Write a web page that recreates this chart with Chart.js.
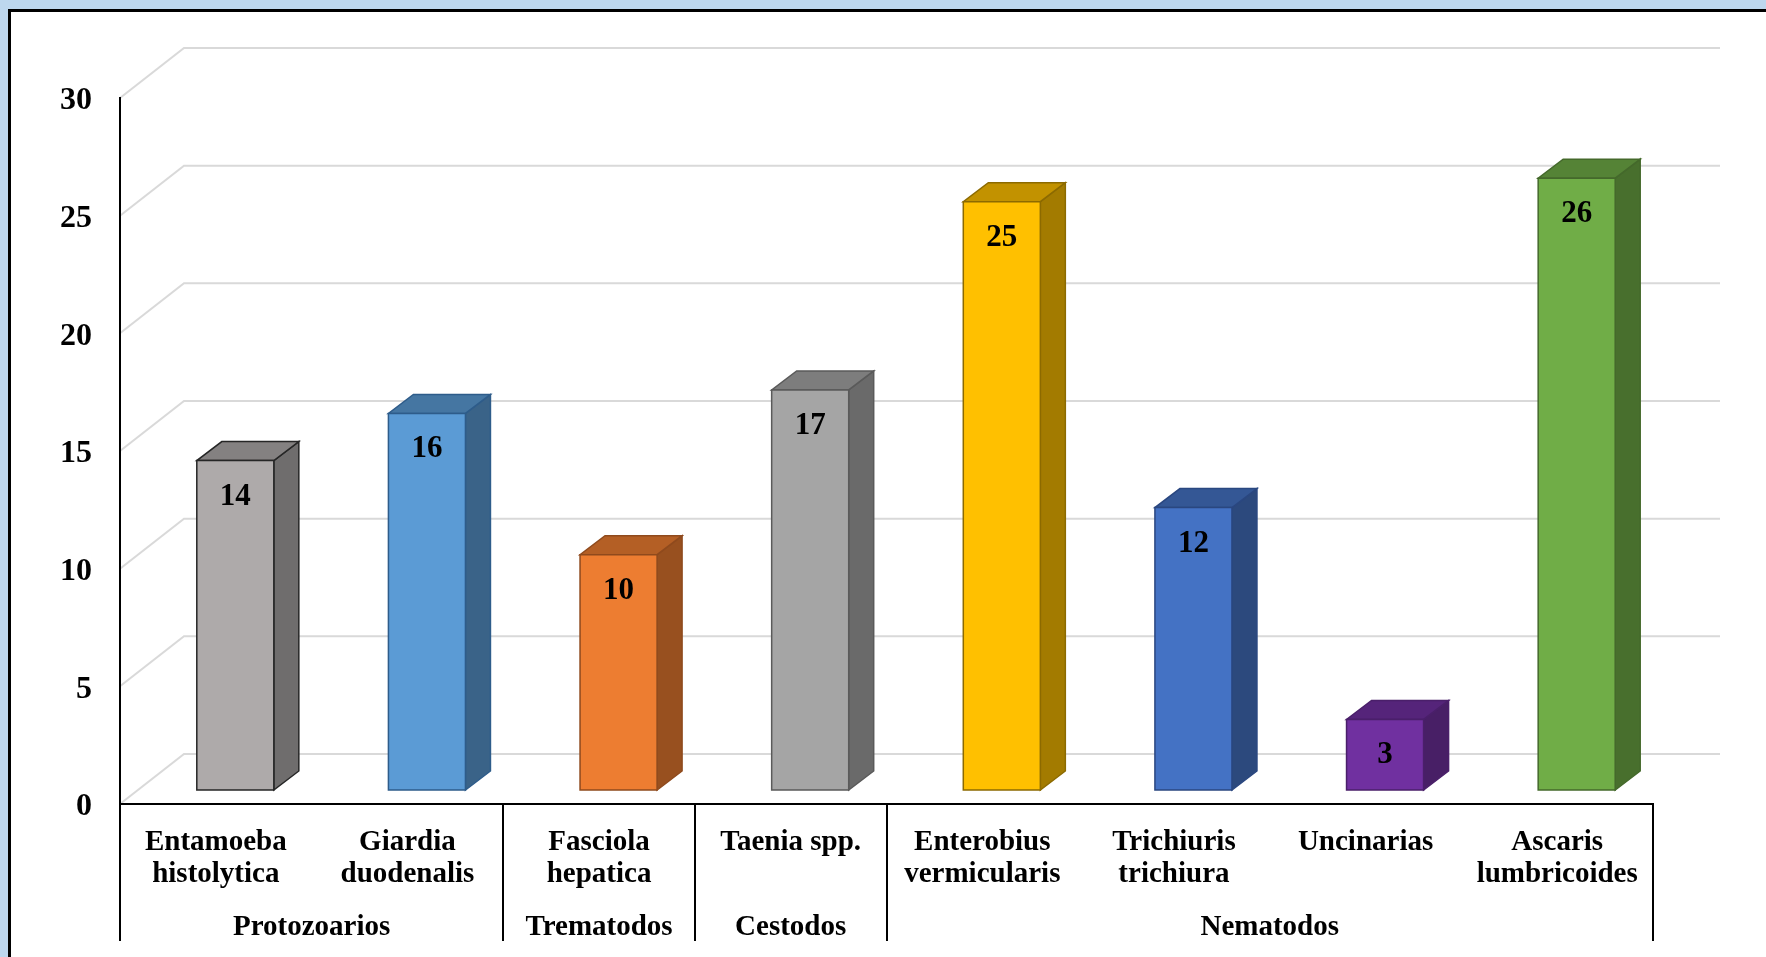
<!DOCTYPE html>
<html>
<head>
<meta charset="utf-8">
<script src="https://cdn.jsdelivr.net/npm/chart.js@4"></script>
<style>
html,body{margin:0;padding:0;background:#BDD7EE;}
canvas{display:block;}
</style>
</head>
<body>
<canvas id="chart" width="1766" height="957"></canvas>
<script>

/* DATA */

const categories=[
["Entamoeba","histolytica"],
["Giardia","duodenalis"],
["Fasciola","hepatica"],
["Taenia spp."],
["Enterobius","vermicularis"],
["Trichiuris","trichiura"],
["Uncinarias"],
["Ascaris","lumbricoides"]
];
const values=[14,16,10,17,25,12,3,26];
const groups=["Protozoarios","Trematodos","Cestodos","Nematodos"];
const groupSizes=[2,1,1,4];
const yTicks=[0,5,10,15,20,25,30];

/* STYLE */

const frontColors=["#AEAAAA","#5B9BD5","#ED7D31","#A5A5A5","#FFC000","#4472C4","#7030A0","#70AD47"];
const edgeColors=["#262626","#2E5C8A","#8F4A1D","#5A5A5A","#8C6A00","#2A4780","#4A1F6A","#44692B"];

const W=1766,H=957;
const FONT='"Liberation Serif","Times New Roman",serif';
const WALL_DX=64,WALL_DY=50;   // back wall offset
const BAR_DX=19.5,BAR_DY=14;   // bar plane offset
const DEP_DX=25,DEP_DY=19;     // bar depth

function shade(hex,f){
const n=parseInt(hex.slice(1),16);
const r=Math.round((n>>16&255)*f),g=Math.round((n>>8&255)*f),b=Math.round((n&255)*f);
return `rgb(${r},${g},${b})`;
}

function poly(ctx,pts,fill,stroke){
ctx.beginPath();
ctx.moveTo(pts[0][0],pts[0][1]);
for(let i=1;i<pts.length;i++) ctx.lineTo(pts[i][0],pts[i][1]);
ctx.closePath();
ctx.fillStyle=fill;
ctx.fill();
ctx.strokeStyle=stroke;
ctx.lineWidth=1.5;
ctx.stroke();
}

/* FRAME + BACK WALL */

const wall={
id:"wall",
beforeDraw(chart){
const c=chart.ctx,y=chart.scales.y,a=chart.chartArea;
c.save();
c.fillStyle="#BDD7EE";
c.fillRect(0,0,W,H);
c.fillStyle="#fff";
c.fillRect(9,10,W,H);
c.fillStyle="#000";
c.fillRect(8,9,3,H);
c.fillRect(8,9,W,3);

c.strokeStyle="#D9D9D9";
c.lineWidth=2;
yTicks.forEach(v=>{
const py=y.getPixelForValue(v);
c.beginPath();
c.moveTo(a.left,py);
c.lineTo(a.left+WALL_DX,py-WALL_DY);
c.lineTo(a.right+WALL_DX+3,py-WALL_DY);
c.stroke();
});
c.restore();
}
};

/* 3D BARS + LABELS */

const bars3d={
id:"bars3d",
afterDatasetsDraw(chart){
const c=chart.ctx,x=chart.scales.x,a=chart.chartArea;
const meta=chart.getDatasetMeta(0);
c.save();

meta.data.forEach((bar,i)=>{
const w=bar.width;
const x0=bar.x-w/2+BAR_DX,x1=bar.x+w/2+BAR_DX;
const yt=bar.y-BAR_DY,yb=bar.base-BAR_DY;
const col=frontColors[i],edge=edgeColors[i];

poly(c,[[x1,yb],[x1,yt],[x1+DEP_DX,yt-DEP_DY],[x1+DEP_DX,yb-DEP_DY]],shade(col,0.64),edge);
poly(c,[[x0,yt],[x1,yt],[x1+DEP_DX,yt-DEP_DY],[x0+DEP_DX,yt-DEP_DY]],shade(col,0.76),edge);
poly(c,[[x0,yt],[x1,yt],[x1,yb],[x0,yb]],col,edge);

c.fillStyle="#000";
c.font="bold 31px "+FONT;
c.textAlign="center";
c.textBaseline="middle";
c.fillText(String(values[i]),(x0+x1)/2,yt+36);
});

/* category labels */
c.font="bold 29px "+FONT;
c.textAlign="center";
c.textBaseline="alphabetic";
c.fillStyle="#000";
categories.forEach((lab,i)=>{
const px=x.getPixelForValue(i);
lab.forEach((line,k)=>c.fillText(line,px,a.bottom+46+k*32));
});

/* group labels + dividers */
let start=0;
c.strokeStyle="#000";
c.lineWidth=2;
const divider=v=>{
const px=Math.round(x.getPixelForValue(v-0.5));
c.beginPath();
c.moveTo(px,a.bottom);
c.lineTo(px,a.bottom+137);
c.stroke();
};
divider(0);
groups.forEach((g,k)=>{
const end=start+groupSizes[k];
const px=(x.getPixelForValue(start-0.5)+x.getPixelForValue(end-0.5))/2;
c.fillText(g,px,a.bottom+131);
divider(end);
start=end;
});

c.restore();
}
};

/* CHART */

new Chart(document.getElementById("chart"),{
type:"bar",
data:{
labels:categories,
datasets:[{
data:values,
backgroundColor:"rgba(0,0,0,0)",
borderWidth:0,
categoryPercentage:1,
barPercentage:0.402
}]
},
options:{
responsive:false,
animation:false,
devicePixelRatio:1,
layout:{padding:{left:0,right:113,top:98,bottom:0}},
plugins:{legend:{display:false},tooltip:{enabled:false}},
scales:{
x:{
grid:{display:false},
border:{display:true,color:"#000",width:2},
ticks:{display:false},
afterFit:s=>{s.height=153;}
},
y:{
min:0,
max:30,
afterBuildTicks:s=>{s.ticks=yTicks.map(v=>({value:v}));},
grid:{display:false,drawTicks:false},
border:{display:true,color:"#000",width:2},
ticks:{
padding:28,
labelOffset:3,
color:"#000",
font:{family:FONT,size:32,weight:"bold"}
},
afterFit:s=>{s.width=120;}
}
}
},
plugins:[wall,bars3d]
});

</script>
</body>
</html>
